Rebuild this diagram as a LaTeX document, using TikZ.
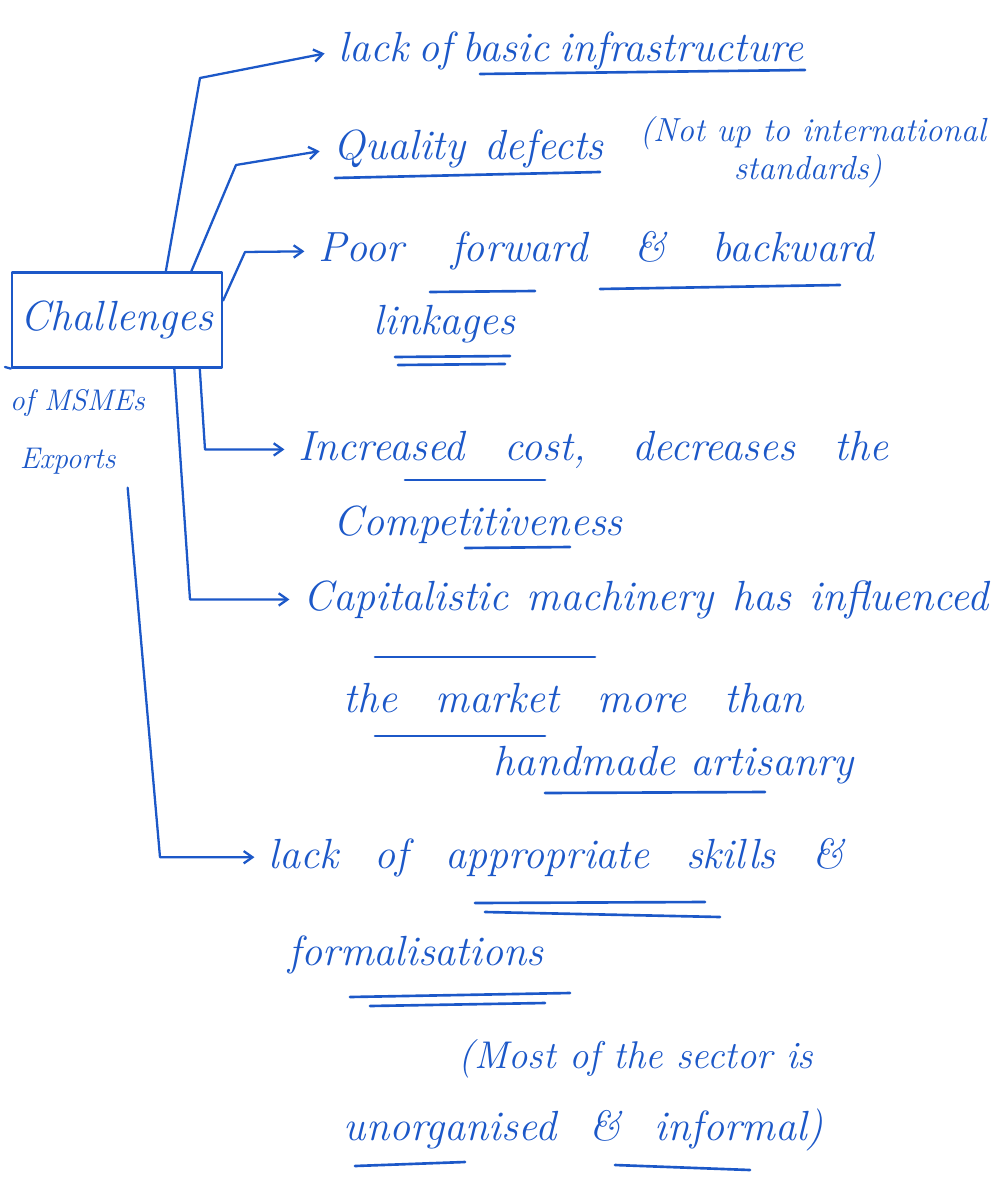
\documentclass[tikz,border=0pt]{standalone}
\usetikzlibrary{arrows.meta,calc}
\definecolor{ink}{RGB}{28,88,200}
% a line of text whose inter-word spaces fill the given width
\newcommand{\spreadline}[2]{\makebox[#1][s]{#2}}
\begin{document}
\begin{tikzpicture}[x=0.02cm,y=-0.02cm,
  pen/.style={draw=ink,line width=1.3pt,line cap=round,line join=round},
  arr/.style={pen,-{Straight Barb[length=5pt,width=7pt]},shorten >=6pt},
  txt/.style={text=ink,font=\fontsize{24}{28}\selectfont\itshape,inner sep=2pt,anchor=base west},
  small/.style={txt,font=\fontsize{17}{20}\selectfont\itshape},
  uline/.style={pen,line width=1.5pt}]
\useasboundingbox (0,0) rectangle (1005,1182);

% central box and its caption
\node[pen,minimum width=4.2cm,minimum height=1.9cm,text=ink,
      font=\fontsize{24}{28}\selectfont\itshape] (ch) at (117,320) {Challenges};
\node[small] (of) at (6,410) {of MSMEs};
\node[small] (ex) at (16,468) {Exports};
\coordinate (ext) at (5,367);
\draw[pen] (ch.south west) -- (ext);

% branch texts
\node[txt] (t1) at (335,62) {\spreadline{9.3cm}{lack of basic infrastructure}};
\node[txt] (t2) at (330,160) {\spreadline{5.4cm}{Quality defects}};
\node[txt,font=\fontsize{19}{22}\selectfont\itshape] (t2a) at (636,142) {(Not up to international};
\node[txt,font=\fontsize{19}{22}\selectfont\itshape] (t2b) at (730,180) {standards)};
\node[txt] (t3) at (315,262) {\spreadline{11.1cm}{Poor forward \& backward}};
\node[txt] (t3a) at (370,335) {linkages};
\node[txt] (t4) at (295,460) {\spreadline{11.8cm}{Increased cost, decreases the}};
\node[txt] (t4a) at (330,535) {Competitiveness};
\node[txt] (t5) at (300,610) {\spreadline{13.7cm}{Capitalistic machinery has influenced}};
\node[txt] (t5a) at (340,712) {\spreadline{9.2cm}{the market more than}};
\node[txt] (t5b) at (490,775) {\spreadline{7.2cm}{handmade artisanry}};
\node[txt] (t6) at (265,868) {\spreadline{11.5cm}{lack of appropriate skills \&}};
\node[txt] (t6a) at (285,965) {formalisations};
\node[txt,font=\fontsize{22}{26}\selectfont\itshape] (t6b) at (455,1068) {(Most of the sector is};
\node[txt] (t6c) at (340,1140) {\spreadline{9.6cm}{unorganised \& informal)}};

% bend points of the connectors
\coordinate (k1) at (200,78);
\coordinate (k2) at (236,165);
\coordinate (k3) at (245,252);
\coordinate (k4) at (205,0);
\coordinate (k5) at (190,0);
\coordinate (k6) at (160,0);

% connectors from the box to each challenge
\draw[arr] ($(ch.north west)!0.73!(ch.north east)$) -- (k1) -- (t1.west);
\draw[arr] ($(ch.north west)!0.85!(ch.north east)$) -- (k2) -- (t2.west);
\draw[arr] ($(ch.north east)!0.3!(ch.south east)$) -- (k3) -- (t3.west);
\draw[arr] ($(ch.south west)!0.89!(ch.south east)$) -- (k4 |- t4.west) -- (t4.west);
\draw[arr] ($(ch.south west)!0.77!(ch.south east)$) -- (k5 |- t5.west) -- (t5.west);
\draw[arr] (ex.south) ++(60,10) -- (k6 |- t6.west) -- (t6.west);

% underlines
\draw[uline] (480,74) -- (805,70);
\draw[uline] (335,178) -- (600,172);
\draw[uline] (430,292) -- (535,291);
\draw[uline] (600,289) -- (840,285);
\draw[uline] (395,357) -- (510,356);
\draw[uline] (398,365) -- (505,364);
\draw[uline] (405,480) -- (545,480);
\draw[uline] (465,548) -- (570,547);
\draw[uline] (375,657) -- (595,657);
\draw[uline] (375,736) -- (545,736);
\draw[uline] (545,793) -- (765,792);
\draw[uline] (475,903) -- (705,902);
\draw[uline] (485,912) -- (720,917);
\draw[uline] (350,997) -- (570,993);
\draw[uline] (370,1006) -- (545,1003);
\draw[uline] (355,1166) -- (465,1162);
\draw[uline] (615,1165) -- (750,1170);
\end{tikzpicture}
\end{document}
